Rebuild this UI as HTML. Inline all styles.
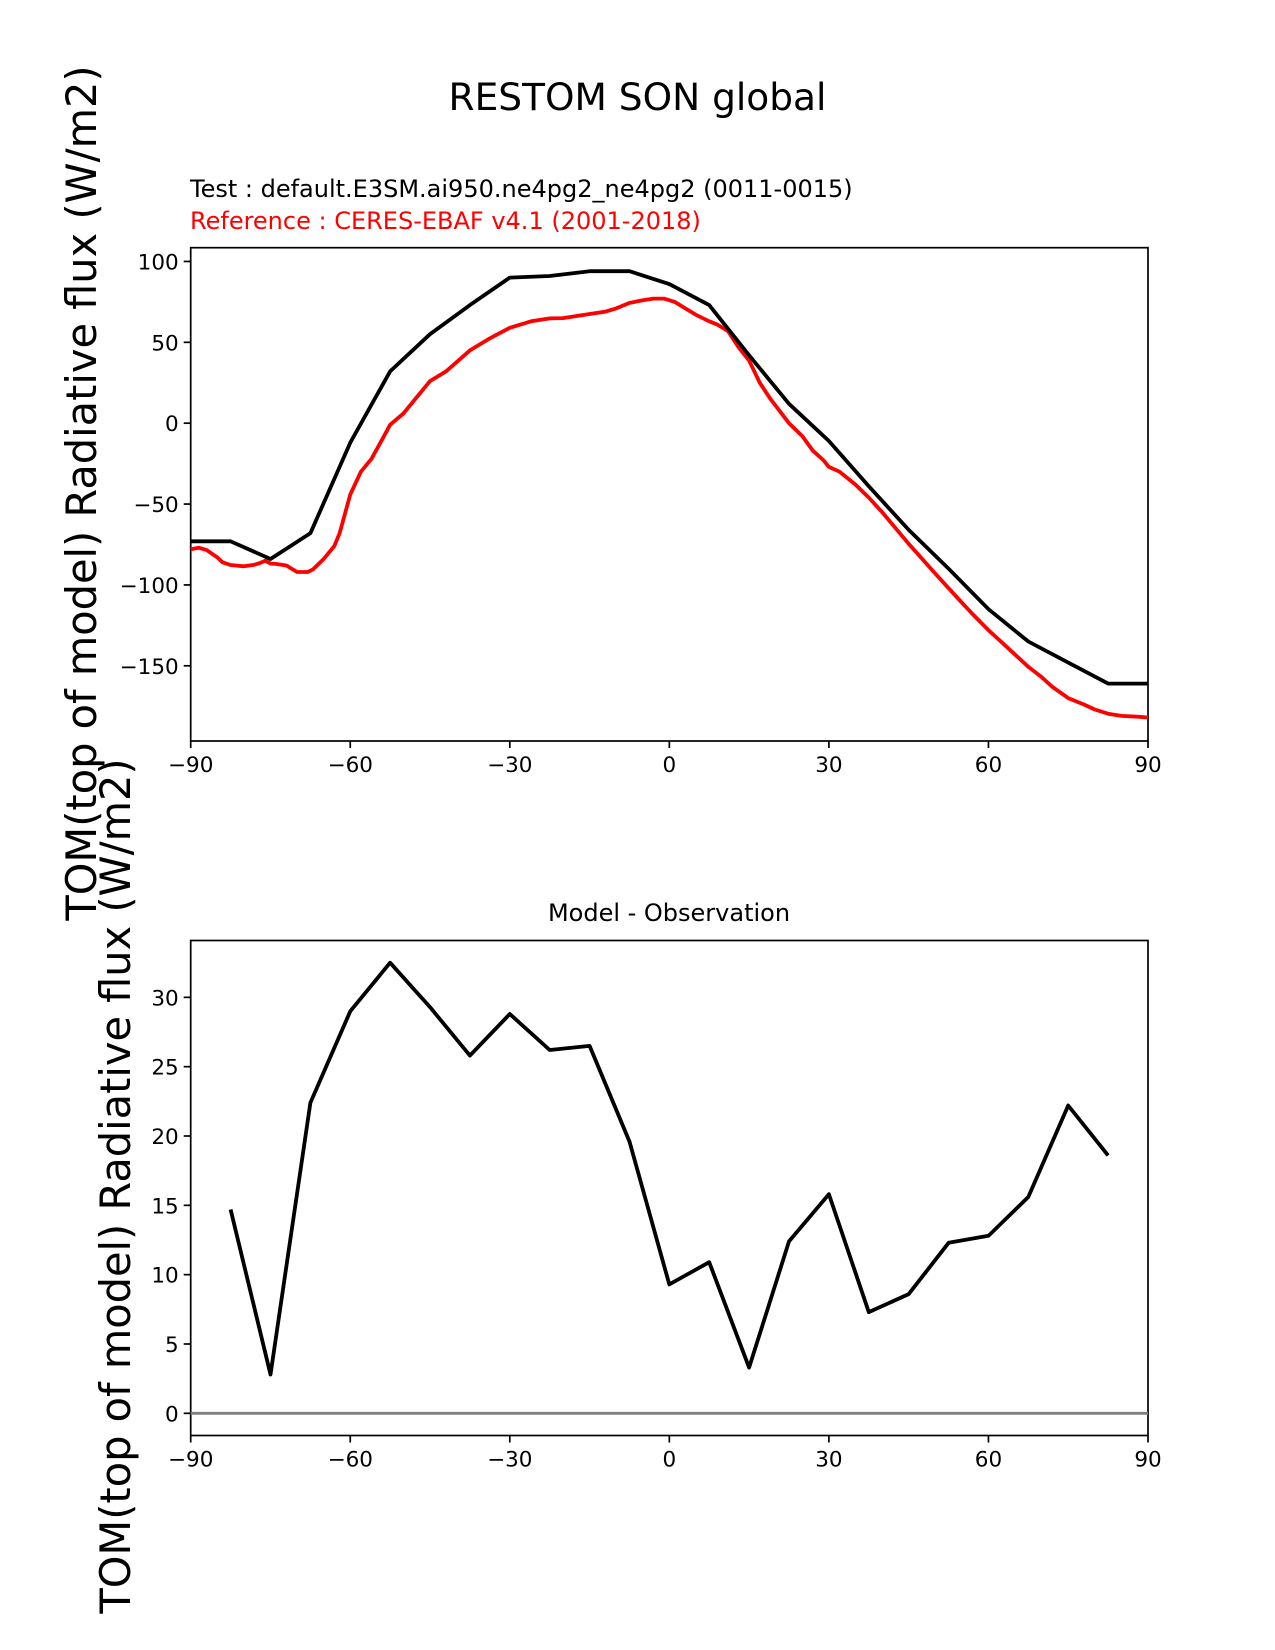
<!DOCTYPE html>
<html><head><meta charset="utf-8">
<style>
html,body{margin:0;padding:0;background:#fff;}
svg{display:block;font-family:"DejaVu Sans","Liberation Sans",sans-serif;}
</style></head>
<body>
<svg id="fig" width="1275" height="1650" viewBox="0 0 1275 1650" xmlns="http://www.w3.org/2000/svg">
<rect width="1275" height="1650" fill="#fff"/>
<text x="637.5" y="110" font-size="37.5" text-anchor="middle">RESTOM SON global</text>
<text x="190" y="197" font-size="24">Test : default.E3SM.ai950.ne4pg2_ne4pg2 (0011-0015)</text>
<text x="190" y="229" font-size="24" fill="#ff0000">Reference : CERES-EBAF v4.1 (2001-2018)</text>
<text transform="translate(96,493) rotate(-90)" font-size="41.5" text-anchor="middle">TOM(top of model) Radiative flux (W/m2)</text>
<text transform="translate(130,1186) rotate(-90)" font-size="41.5" text-anchor="middle">TOM(top of model) Radiative flux (W/m2)</text>
<text x="669" y="921" font-size="24" text-anchor="middle">Model - Observation</text>
<g id="top"></g>
<g id="bot"></g>
</svg>
<script>
const lat = [-90,-82.5,-75,-67.5,-60,-52.5,-45,-37.5,-30,-22.5,-15,-7.5,0,7.5,15,22.5,30,37.5,45,52.5,60,67.5,75,82.5,90];
const testVals = [-73,-73,-84,-68,-12,32,55,73,90,91,94,94,86,73,42,12,-11,-39,-66,-90,-115,-135,-148,-161,-161];
const refLat = [-90,-88.5,-87,-85,-84,-82.5,-80,-78,-77,-76,-75,-74,-72,-70,-68,-67,-65,-63,-62,-60,-58,-56,-54,-52.5,-50,-45,-42,-37.5,-34,-30,-26,-22.5,-20,-15,-12,-10,-7.5,-5,-3,-1,1,3,5,7.5,9,11,13,15,17,19,22.5,25,27,29,30,32,35,37.5,40,45,50,52.5,55,57,60,62,67.5,70,72,75,78,80,82.5,85,88,90];
const refVals = [-78,-77,-78.5,-83,-86,-87.7,-88.5,-87.5,-86.5,-85,-86.8,-87,-88,-92,-92,-90.4,-84,-76,-68,-44,-30,-22,-10,-1,6,26,32,45,52,59,63,64.8,65,67.5,69,71,74.4,76,77,77,75,71,67,63,61,57,47,38.7,25,15,0,-8,-17,-23,-27,-30,-38,-46,-55,-74.6,-93,-102,-111,-118,-128,-134,-150.6,-157,-163,-170,-174,-177,-179.6,-181,-181.5,-182];
const diffLat = [-82.5,-75,-67.5,-60,-52.5,-45,-37.5,-30,-22.5,-15,-7.5,0,7.5,15,22.5,30,37.5,45,52.5,60,67.5,75,82.5];
const diffVals = [14.7,2.8,22.4,29,32.5,29.3,25.8,28.8,26.2,26.5,19.6,9.3,10.9,3.3,12.4,15.8,7.3,8.6,12.3,12.8,15.6,22.2,18.6];
const xTicks = [-90,-60,-30,0,30,60,90];
const topYTicks = [100,50,0,-50,-100,-150];
const botYTicks = [0,5,10,15,20,25,30];

const NS="http://www.w3.org/2000/svg";
function mk(parent,tag,attrs){const e=document.createElementNS(NS,tag);for(const k in attrs)e.setAttribute(k,attrs[k]);parent.appendChild(e);return e;}
const L=190.7,R=1148;
function sx(v){return L+(v+90)/180*(R-L);}

function axes(g,top,bottom,ymin,ymax,yTicks,name){
  const sy=v=>bottom-(v-ymin)/(ymax-ymin)*(bottom-top);
  const fr=mk(g,'rect',{x:L,y:top,width:R-L,height:bottom-top,fill:'none',stroke:'#000','stroke-width':1.7});
  
  
  xTicks.forEach(t=>{
    const x=sx(t);
    const tk=mk(g,'line',{x1:x,x2:x,y1:bottom,y2:bottom+7,stroke:'#000','stroke-width':1.7});
    
    
    const tx=mk(g,'text',{x:x,y:bottom+31,'font-size':21.5,'text-anchor':'middle'});
    tx.textContent=(t<0?'\u2212'+(-t):String(t));
    
    
  });
  yTicks.forEach(t=>{
    const y=sy(t);
    const tk=mk(g,'line',{x1:L-7,x2:L,y1:y,y2:y,stroke:'#000','stroke-width':1.7});
    
    
    const tx=mk(g,'text',{x:L-12,y:y+8,'font-size':21.5,'text-anchor':'end'});
    tx.textContent=(t<0?'\u2212'+(-t):String(t));
    
    
  });
  return sy;
}
function line(g,xs,ys,sy,color,w,name){
  const d=xs.map((x,i)=>(i?'L':'M')+sx(x).toFixed(1)+' '+sy(ys[i]).toFixed(1)).join(' ');
  const p=mk(g,'path',{d:d,fill:'none',stroke:color,'stroke-width':w,'stroke-linejoin':'round'});
  
  
}
const gt=document.getElementById('top');
const syT=axes(gt,247.7,741,-196.5,108.5,topYTicks,'top-plot');
line(gt,refLat,refVals,syT,'#ff0000',3.8,'reference-line');
line(gt,lat,testVals,syT,'#000',3.8,'test-line');
const gb=document.getElementById('bot');
const syB=axes(gb,940.5,1435.5,-1.6,34.1,botYTicks,'bottom-plot');
const zl=mk(gb,'line',{x1:L,x2:R,y1:syB(0),y2:syB(0),stroke:'#808080','stroke-width':2.8});


line(gb,diffLat,diffVals,syB,'#000',3.8,'difference-line');
</script>
</body></html>
